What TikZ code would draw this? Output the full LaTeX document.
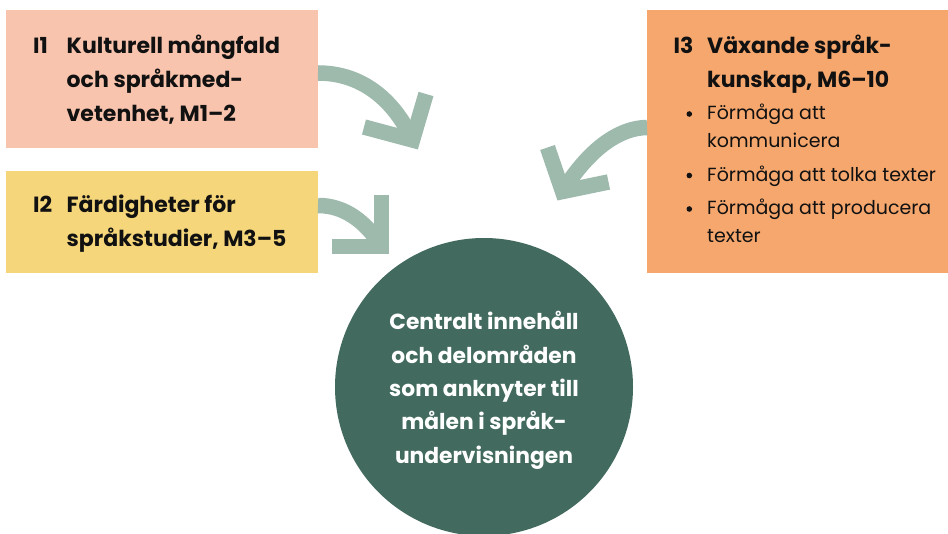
\documentclass[tikz,border=0pt]{standalone}
\usepackage{fontspec}
\setmainfont{Poppins}
\definecolor{peach}{HTML}{F8C4AE}
\definecolor{sand}{HTML}{F5D67B}
\definecolor{apricot}{HTML}{F5A76E}
\definecolor{forest}{HTML}{426A5E}
\definecolor{sage}{HTML}{9DBAAD}
\definecolor{ink}{HTML}{111111}
\begin{document}
\begin{tikzpicture}[x=1pt,y=-1pt,
  panel/.style={rectangle, draw=none, inner sep=0pt, anchor=north west},
  hd/.style={anchor=base west, inner sep=0pt, text=ink, font=\fontsize{22}{34}\selectfont\bfseries},
  bl/.style={anchor=base west, inner sep=0pt, text=ink, font=\fontsize{19}{28}\selectfont},
  ct/.style={anchor=base, inner sep=0pt, text=white, font=\fontsize{21.8}{33}\selectfont\bfseries},
  shaft/.style={draw=sage, line width=15.5pt},
  chev/.style={draw=sage, line width=15.5pt, line join=miter, miter limit=10}]
\useasboundingbox (0,0) rectangle (948,534);
\clip (0,0) rectangle (948,534);
% panels
\node[panel, fill=peach, minimum width=312pt, minimum height=138pt] (b1) at (6,10) {};
\node[panel, fill=sand, minimum width=312pt, minimum height=102pt] (b2) at (6,171) {};
\node[panel, fill=apricot, minimum width=301pt, minimum height=263pt] (b3) at (647,10) {};
\node[circle, fill=forest, draw=none, minimum size=298pt, inner sep=0pt] (c) at (484,387) {};
% I1
\node[hd] (n1) at (33,53.5) {I1};
\node[hd] (t1a) at (66.5,53.5) {Kulturell mångfald};
\node[hd] (t1b) at (66.5,87.5) {och språkmed-};
\node[hd] (t1c) at (66.5,121.5) {vetenhet, M1–2};
% I2
\node[hd] (n2) at (33,213) {I2};
\node[hd] (t2a) at (66.5,213) {Färdigheter för};
\node[hd] (t2b) at (66.5,247) {språkstudier, M3–5};
% I3
\node[hd] (n3) at (673.5,54) {I3};
\node[hd] (t3a) at (707,54) {Växande språk-};
\node[hd] (t3b) at (707,87.5) {kunskap, M6–10};
\fill[ink] (689.3,114) circle (2.8pt);
\fill[ink] (689.3,175.5) circle (2.8pt);
\fill[ink] (689.3,209) circle (2.8pt);
\node[bl] (p1a) at (707,120) {Förmåga att};
\node[bl] (p1b) at (707,148) {kommunicera};
\node[bl] (p2) at (707,182) {Förmåga att tolka texter};
\node[bl] (p3a) at (707,215) {Förmåga att producera};
\node[bl] (p3b) at (707,243) {texter};
% circle text
\node[ct] (c1) at (484,330) {Centralt innehåll};
\node[ct] (c2) at (484,363.5) {och delområden};
\node[ct] (c3) at (484,397) {som anknyter till};
\node[ct] (c4) at (484,430) {målen i språk-};
\node[ct] (c5) at (484,463.5) {undervisningen};
% arrows
\coordinate (a1s) at (318,73);
\coordinate (a1v) at (412.5,140);
\draw[shaft] (a1s) .. controls (362,73) and (394,100) .. (a1v);
\draw[chev] (364,127) -- (a1v) -- (426,94);
\coordinate (a2s) at (318,205.5);
\coordinate (a2v) at (381.5,246.5);
\draw[shaft] (a2s) .. controls (345,205.5) and (366,222) .. (a2v);
\draw[chev] (381.5,195) -- (a2v) -- (332,246.5);
\coordinate (a3s) at (647,127.5);
\coordinate (a3v) at (562.6,191.5);
\draw[shaft] (a3s) .. controls (615,128) and (585,155) .. (a3v);
\draw[chev] (547.5,147.5) -- (a3v) -- (608.5,182);
\end{tikzpicture}
\end{document}
